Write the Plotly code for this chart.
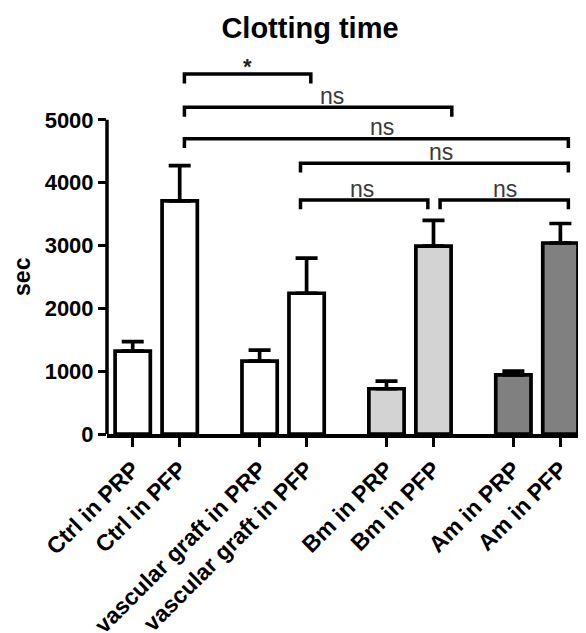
import plotly.graph_objects as go

categories = ["Ctrl in PRP", "Ctrl in PFP", "vascular graft in PRP", "vascular graft in PFP",
              "Bm in PRP", "Bm in PFP", "Am in PRP", "Am in PFP"]
means = [1320, 3710, 1160, 2240, 720, 2990, 940, 3040]
sem = [150, 560, 175, 560, 120, 410, 60, 310]
colors = ["white", "white", "white", "white", "#d3d3d3", "#d3d3d3", "#808080", "#808080"]

# significance brackets: x start, x end (axis units), bar level, label, label x
br_x0 = [1.10, 1.10, 1.10, 3.57, 3.57, 6.54]
br_x1 = [3.79, 6.79, 9.27, 9.27, 6.28, 9.27]
br_y = [5730, 5200, 4700, 4310, 3725, 3725]
br_label = ["*", "ns", "ns", "ns", "ns", "ns"]
br_label_x = [2.45, 4.23, 5.30, 6.57, 4.87, 7.92]

yticks = [0, 1000, 2000, 3000, 4000, 5000]

FONT = "Arial, Liberation Sans, sans-serif"
OFF = 8  # page body margin
group_step = 2.7
xpos = [(i // 2) * group_step + (i % 2) for i in range(len(categories))]

fig = go.Figure()
fig.add_trace(go.Bar(
    x=xpos, y=means, width=0.75,
    marker=dict(color=colors, line=dict(color="black", width=3.7)),
    error_y=dict(type="data", symmetric=False, array=sem, arrayminus=[0] * len(sem),
                 color="black", thickness=3.7, width=11),
    showlegend=False,
))

leg = 150
for x0, x1, y, lab, lx in zip(br_x0, br_x1, br_y, br_label, br_label_x):
    fig.add_trace(go.Scatter(
        x=[x0, x0, x1, x1], y=[y - leg, y, y, y - leg], mode="lines",
        line=dict(color="black", width=3.5), showlegend=False, hoverinfo="skip"))
    if lab == "*":
        fig.add_annotation(x=lx, y=y - 110, xref="x", yref="y", text="<b>*</b>", showarrow=False,
                           yanchor="bottom", font=dict(family=FONT, size=22, color="#222"))
    else:
        fig.add_annotation(x=lx, y=y - 60, xref="x", yref="y", text=lab, showarrow=False,
                           yanchor="bottom", font=dict(family=FONT, size=23, color="#3a3a3a"))

# y axis line from 0 to 5000 only
fig.add_shape(type="line", xref="paper", yref="y", x0=0, x1=0, y0=0, y1=yticks[-1],
              line=dict(color="black", width=3.5))

L = 107 - OFF
R = 578 - OFF
fig.add_annotation(x=(22 - 107) / (R - L), xref="paper", y=2500, yref="y", text="<b>sec</b>",
                   textangle=-90, showarrow=False, xanchor="center", yanchor="middle",
                   font=dict(family=FONT, size=23, color="black"))

fig.update_layout(
    width=586, height=633,
    margin=dict(l=L, r=586 - R, t=57 - OFF, b=633 - (434.5 - OFF), autoexpand=False),
    paper_bgcolor="white", plot_bgcolor="white",
    title=dict(text="<b>Clotting time</b>", x=(310 - OFF) / 586, xref="container", xanchor="center",
               y=1 - (28 - OFF) / 633, yref="container", yanchor="middle",
               font=dict(family=FONT, size=29, color="black")),
    xaxis=dict(range=[-0.547, 9.475], tickvals=xpos, ticktext=["<b>%s</b>" % c for c in categories],
               tickangle=-45, ticks="outside", ticklen=9, tickwidth=3, tickcolor="black",
               showline=True, linecolor="black", linewidth=3.5, showgrid=False, zeroline=False,
               automargin=False, tickfont=dict(family=FONT, size=23, color="black")),
    yaxis=dict(range=[0, 6000], tickvals=yticks, ticktext=["<b>%d</b>" % v for v in yticks],
               ticks="outside", ticklen=8, tickwidth=3, tickcolor="black",
               showline=False, showgrid=False, zeroline=False, automargin=False,
               tickfont=dict(family=FONT, size=22, color="black")),
)

fig.write_html("out.html")
